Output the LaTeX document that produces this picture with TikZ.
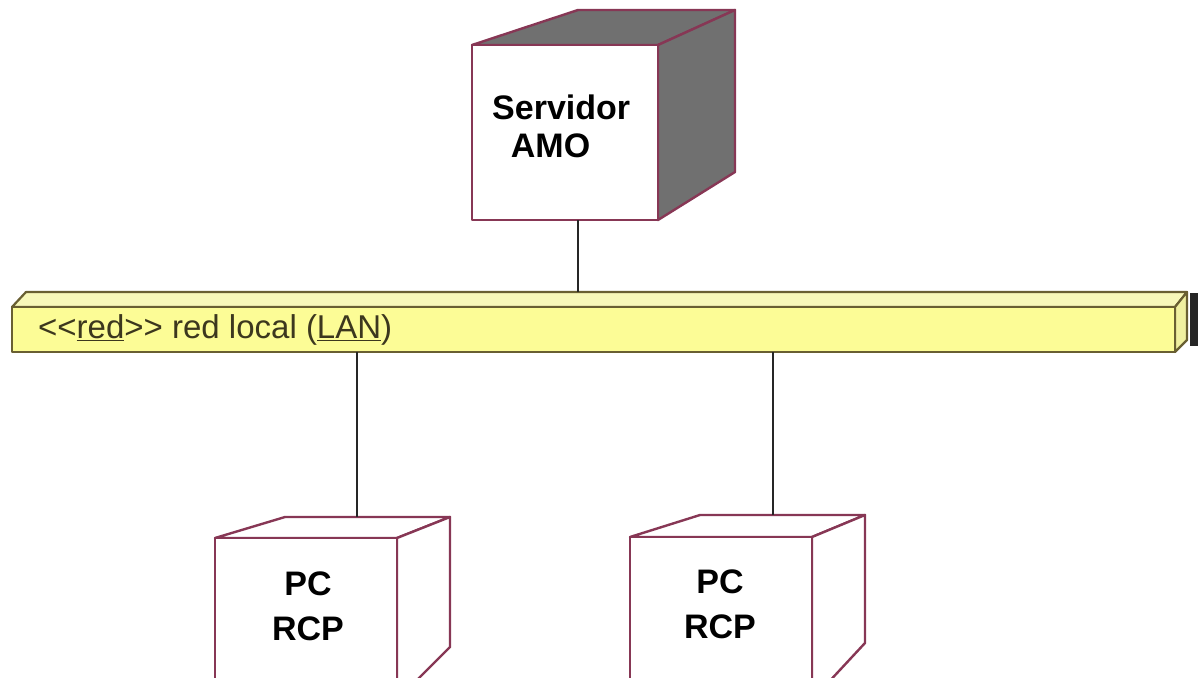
\documentclass[tikz,border=0pt]{standalone}
\usepackage{fontspec}
\setmainfont{Liberation Sans}
\definecolor{edge}{RGB}{135,55,85}
\definecolor{bargreen}{RGB}{105,95,50}
\definecolor{barfront}{RGB}{252,252,150}
\definecolor{bartop}{RGB}{248,248,185}
\definecolor{barside}{RGB}{240,240,160}
\definecolor{shade}{RGB}{112,112,112}
\definecolor{labeltext}{RGB}{60,55,30}
\newcommand\stereoline[1]{\underline{#1}}
\tikzset{
  facewhite/.style={draw=edge, line width=2.4pt, fill=white, line join=round},
  facegray/.style={draw=edge, line width=2.4pt, fill=shade, line join=round},
  barface/.style={draw=bargreen, line width=2.2pt, line join=round},
  link/.style={draw=black!85, line width=2.2pt},
  nodetext/.style={font=\fontsize{34}{38}\selectfont\bfseries, align=left, text=black},
  pctext/.style={font=\fontsize{34}{45}\selectfont\bfseries, align=center, text=black},
}
\begin{document}
\begin{tikzpicture}[x=1pt, y=-1pt]
\useasboundingbox (0,0) rectangle (1198,677);
\clip (0,0) rectangle (1198,677);

% --- server node (grey side)
\draw[facegray] (472,45) -- (578,10) -- (735,10) -- (658,45) -- cycle;
\draw[facegray] (658,45) -- (735,10) -- (735,172) -- (658,220) -- cycle;
\draw[facewhite] (472,45) rectangle (658,220);
\node[nodetext, anchor=north west, inner sep=0pt] (srv) at (492,95) {Servidor\\\hspace*{0.55em}AMO};
\coordinate (srvbot) at (578,220);

% --- LAN bar
\draw[barface, fill=bartop] (12,307) -- (26,292) -- (1187,292) -- (1175,307) -- cycle;
\draw[barface, fill=barside] (1175,307) -- (1187,292) -- (1187,340) -- (1175,352) -- cycle;
\draw[barface, fill=barfront] (12,307) rectangle (1175,352);
\fill[black!85] (1190,293) rectangle (1198,346);
\node[anchor=west, inner sep=0pt, text=labeltext, font=\fontsize{33}{36}\selectfont] (lan)
  at (38,330) {<{}<\stereoline{red}>{}> red local (\stereoline{LAN})};
\coordinate (bartopsrv) at (578,292);
\coordinate (barbotA) at (357,352);
\coordinate (barbotB) at (773,352);

% --- PC node A
\draw[facewhite] (215,538) -- (285,517) -- (450,517) -- (397,538) -- cycle;
\draw[facewhite] (397,538) -- (450,517) -- (450,647) -- (397,700) -- cycle;
\draw[facewhite] (215,538) rectangle (397,700);
\node[pctext] (pcA) at (308,606) {PC\\RCP};
\coordinate (pcAtop) at (357,517);

% --- PC node B
\draw[facewhite] (630,537) -- (700,515) -- (865,515) -- (812,537) -- cycle;
\draw[facewhite] (812,537) -- (865,515) -- (865,643) -- (812,700) -- cycle;
\draw[facewhite] (630,537) rectangle (812,700);
\node[pctext] (pcB) at (720,604) {PC\\RCP};
\coordinate (pcBtop) at (773,515);

% --- links
\draw[link] (srvbot) -- (bartopsrv);
\draw[link] (barbotA) -- (pcAtop);
\draw[link] (barbotB) -- (pcBtop);
\end{tikzpicture}
\end{document}
